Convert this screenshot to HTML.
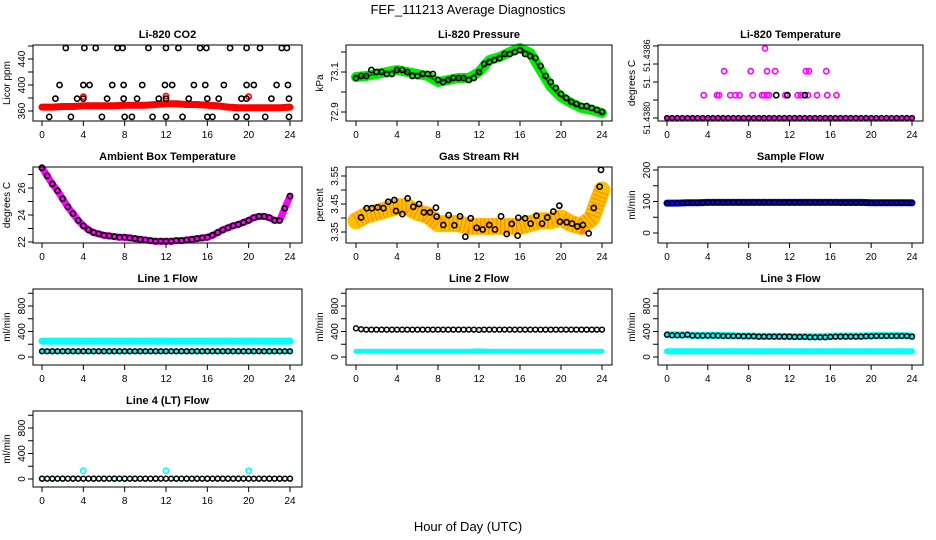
<!DOCTYPE html>
<html><head><meta charset="utf-8">
<style>
html,body{margin:0;padding:0;background:#fff;}
svg{display:block;font-family:"Liberation Sans",Arial,sans-serif;}
</style></head>
<body>
<svg id="chart" width="936" height="540" viewBox="0 0 936 540">
<text x="468" y="14" text-anchor="middle" font-size="13">FEF_111213  Average Diagnostics</text>
<text x="468" y="531" text-anchor="middle" font-size="13">Hour of Day (UTC)</text>
</svg>
<script>
const hoursTicks=[0,4,8,12,16,20,24];
const hourly=[0,1,2,3,4,5,6,7,8,9,10,11,12,13,14,15,16,17,18,19,20,21,22,23,24];
const half=[0,0.5,1,1.5,2,2.5,3,3.5,4,4.5,5,5.5,6,6.5,7,7.5,8,8.5,9,9.5,10,10.5,11,11.5,12,12.5,13,13.5,14,14.5,15,15.5,16,16.5,17,17.5,18,18.5,19,19.5,20,20.5,21,21.5,22,22.5,23,23.5,24];

// CO2
const co2Band=[366,366,367,367,368,368,368,368,369,369,369,370,371,371,370,370,369,368,366,365,365,365,365,365,366];
const co2HiT=[2.3,4.1,5.2,7.3,7.8,10.3,12.0,13.2,15.3,15.9,18.2,19.8,21.1,23.2,23.7];
const co2HiV=[457,457,457,457,457,457,457,457,457,457,457,457,457,457,457];
const co2MidT=[1.7,4.0,4.6,6.8,7.9,9.7,11.9,12.6,14.7,15.8,17.6,19.8,20.5,22.7,23.8];
const co2MidV=[400,400,400,400,400,400,400,400,400,400,400,400,400,400,400];
const co2LowT=[1.3,3.4,4.0,6.3,7.9,9.2,11.3,12.0,14.2,16.0,17.1,19.3,19.8,22.2,23.9];
const co2LowV=[379,379,379,379,379,379,379,379,379,379,379,379,379,379,379];
const co2BotT=[0.7,2.8,5.8,8.0,8.7,10.7,12.0,13.6,16.0,16.5,18.8,19.8,21.6,23.9];
const co2BotV=[351,351,351,351,351,351,351,351,351,351,351,351,351,351];
// Pressure
const presBand=[73.075,73.08,73.09,73.1,73.11,73.1,73.09,73.08,73.05,73.06,73.07,73.07,73.1,73.16,73.175,73.2,73.22,73.195,73.11,73.025,72.975,72.945,72.92,72.91,72.895];
const presBlack=[73.07,73.08,73.08,73.11,73.10,73.10,73.09,73.09,73.11,73.11,73.10,73.08,73.08,73.09,73.09,73.09,73.06,73.05,73.06,73.07,73.07,73.07,73.06,73.07,73.10,73.14,73.15,73.16,73.17,73.19,73.19,73.20,73.21,73.19,73.18,73.17,73.13,73.08,73.05,73.02,72.99,72.97,72.95,72.94,72.93,72.93,72.92,72.91,72.90];
// Li-820 temperature
const tBase=51.4380;
const tempL1T=[3.6,4.9,5.1,6.2,6.7,7.1,8.4,9.3,9.5,9.8,10.0,11.6,12.8,13.1,13.8,14.7,15.7,16.6];
const tempL1V=[51.43819,51.43819,51.43819,51.43819,51.43819,51.43819,51.43819,51.43819,51.43819,51.43819,51.43819,51.43819,51.43819,51.43819,51.43819,51.43819,51.43819,51.43819];
const tempL2T=[5.6,8.2,9.8,10.6,13.6,13.9,15.6];
const tempL2V=[51.43839,51.43839,51.43839,51.43839,51.43839,51.43839,51.43839];
const tempL3T=[9.6];
const tempL3V=[51.43858];
const tempBlkT=[10.7,11.8,13.5];
const tempBlkV=[51.43819,51.43819,51.43819];
// Ambient
const ambBlack=[27.5,26.9,26.3,25.8,25.2,24.6,24.1,23.6,23.2,22.9,22.7,22.6,22.5,22.45,22.4,22.35,22.35,22.3,22.25,22.2,22.15,22.1,22.05,22.05,22.05,22.05,22.1,22.1,22.15,22.2,22.25,22.3,22.35,22.5,22.7,22.9,23.05,23.2,23.3,23.45,23.6,23.8,23.9,23.9,23.8,23.6,23.6,24.5,25.4];
// Gas stream RH
const rhBand=[3.39,3.41,3.42,3.43,3.44,3.44,3.42,3.41,3.38,3.38,3.38,3.37,3.37,3.37,3.37,3.37,3.37,3.38,3.39,3.39,3.40,3.38,3.37,3.40,3.50];
const rhT=[0.49,1.04,1.56,2.11,2.67,3.15,3.74,3.9,4.52,5.04,5.59,6.15,6.63,7.22,7.8,7.87,8.52,9.04,9.59,10.15,10.67,11.19,11.77,12.36,13.0,13.56,14.15,14.7,15.2,15.77,15.84,16.5,17.04,17.6,18.15,18.67,19.25,19.84,19.9,20.55,21.07,21.59,22.14,22.7,23.2,23.77,23.9];
const rhV=[3.402,3.435,3.435,3.438,3.435,3.458,3.464,3.425,3.414,3.470,3.440,3.450,3.420,3.420,3.437,3.405,3.375,3.410,3.374,3.406,3.333,3.399,3.365,3.359,3.375,3.359,3.406,3.343,3.379,3.337,3.401,3.399,3.380,3.408,3.380,3.402,3.423,3.444,3.387,3.385,3.380,3.370,3.375,3.345,3.436,3.512,3.572];
// Sample flow
const sampBand=[95,95,96,96,97,97,97,97,97,97,97,97,97,97,97,97,97,97,97,97,96,96,96,96,96];
const sampBlack=[94,94,95,95,96,96,96,96,97,97,97,97,97,97,97,97,97,97,97,97,97,97,97,97,97,97,97,97,97,97,97,97,97,97,96,96,96,96,96,96,96,96,96,96,96,96,96,96,95];
// Line flows
const l1Top=[250,250,250,250,250,250,250,250,250,250,250,250,250,250,250,250,250,250,250,250,250,250,250,250,250];
const l1Low=[90,90,90,90,90,90,90,90,90,90,90,90,90,90,90,90,90,90,90,90,90,90,90,90,90];
const l1Black=[90,90,90,90,90,90,90,90,90,90,90,90,90,90,90,90,90,90,90,90,90,90,90,90,90,90,90,90,90,90,90,90,90,90,90,90,90,90,90,90,90,90,90,90,90,90,90,90,90];
const l2Low=[90,90,90,90,90,90,90,90,90,90,90,90,95,90,90,90,90,90,90,90,90,90,90,90,90];
const l2Black=[450,435,430,430,430,430,430,430,430,430,430,430,430,430,430,430,430,430,430,430,430,430,430,430,425,430,430,430,430,430,430,430,430,430,430,430,430,430,430,430,430,430,430,430,430,430,430,430,430];
const l3Top=[350,350,345,340,340,340,335,330,330,325,325,325,320,320,320,320,325,330,330,330,335,335,335,335,330];
const l3Low=[90,90,90,90,90,90,90,90,90,90,90,90,90,90,90,90,90,90,90,90,90,90,90,90,90];
const l3Black=[350,340,340,340,350,335,335,335,335,335,335,330,330,330,330,325,325,325,320,320,320,320,320,320,320,315,315,315,310,310,310,310,315,320,320,320,320,320,320,325,325,330,330,330,330,330,330,330,320];
const l4Cyan=[5,5,5,5,130,5,5,5,5,5,5,5,130,5,5,5,5,5,5,5,130,5,5,5,5];
const l4Black=[5,5,5,5,5,5,5,5,5,5,5,5,5,5,5,5,5,5,5,5,5,5,5,5,5,5,5,5,5,5,5,5,5,5,5,5,5,5,5,5,5,5,5,5,5,5,5,5,5];

const NS='http://www.w3.org/2000/svg';
const svg=document.getElementById('chart');
const boxL=[33,346,658], boxR=[302,612,923], tk0=[42,356,667], tk24=[290,602,912];
const boxT=[45,167,289,411], boxB=[121,243,365,487];
function mk(tag,attrs,parent){const e=document.createElementNS(NS,tag);for(const k in attrs)e.setAttribute(k,attrs[k]);(parent||svg).appendChild(e);return e;}

function panel(c,r,name,title,ylab,vA,pA,vB,pB,yt,ylbl,lblVals,lblFont){
  const g=mk('g',{});
  
  
  const xs=t=>tk0[c]+(tk24[c]-tk0[c])*t/24;
  const ys=v=>pA+(v-vA)*(pB-pA)/(vB-vA);
  const tt=mk('text',{x:(boxL[c]+boxR[c])/2,y:boxT[r]-7,'text-anchor':'middle','font-size':11,'font-weight':'bold'},g);
  tt.textContent=title;
  
  
  const yl=mk('text',{transform:`translate(${boxL[c]-23},${(boxT[r]+boxB[r])/2}) rotate(-90)`,'text-anchor':'middle','font-size':10},g);
  yl.textContent=ylab;
  
  
  const plot=mk('g',{},g);
  
  
  const bx=mk('rect',{x:boxL[c],y:boxT[r],width:boxR[c]-boxL[c],height:boxB[r]-boxT[r],fill:'none',stroke:'#000','stroke-width':1},g);
  
  
  hoursTicks.forEach(h=>{
    const x=xs(h);
    mk('line',{x1:x,x2:x,y1:boxB[r],y2:boxB[r]+5,stroke:'#000'},g);
    const t=mk('text',{x:x,y:boxB[r]+17,'text-anchor':'middle','font-size':10},g);
    t.textContent=h;
    
    
  });
  yt.forEach(v=>{
    const y=ys(v);
    mk('line',{x1:boxL[c]-5,x2:boxL[c],y1:y,y2:y,stroke:'#000'},g);
  });
  const lv=lblVals||yt;
  lv.forEach((v,i)=>{
    if(ylbl[i]){
      const y=ys(v);
      const t=mk('text',{transform:`translate(${boxL[c]-8},${y}) rotate(-90)`,'text-anchor':'middle','font-size':lblFont||10},g);
      t.textContent=ylbl[i];
      
      
    }
  });
  return {xs,ys,plot};
}
function band(p,ts,vs,color,w,name){
  const pts=ts.map((t,i)=>p.xs(t).toFixed(1)+','+p.ys(vs[i]).toFixed(1)).join(' ');
  const e=mk('polyline',{points:pts,fill:'none',stroke:color,'stroke-width':w,'stroke-linejoin':'round','stroke-linecap':'round'},p.plot);
  
  
  return e;
}
function pts(p,ts,vs,color,name,rad,sw){
  ts.forEach((t,i)=>{
    const e=mk('circle',{cx:p.xs(t),cy:p.ys(vs[i]),r:rad||2.6,fill:'none',stroke:color,'stroke-width':sw||1.6},p.plot);
    
    
  });
}

// Row 1
let p=panel(0,0,'co2','Li-820 CO2','Licor ppm',360,111,440,59,[360,380,400,420,440,460],['360','','400','','440','']);
band(p,hourly,co2Band,'#ff0000',7,'co2-band');
pts(p,[4,12,20],[382,383,382],'#ff0000','co2-red-point');
pts(p,co2HiT,co2HiV,'#000','co2-point');
pts(p,co2MidT,co2MidV,'#000','co2-point');
pts(p,co2LowT,co2LowV,'#000','co2-point');
pts(p,co2BotT,co2BotV,'#000','co2-point');

p=panel(1,0,'pressure','Li-820 Pressure','kPa',73.1,72,72.9,112,[72.9,73.0,73.1,73.2],['72.9','','73.1','']);
band(p,hourly,presBand,'#00ee00',10,'pressure-band');
band(p,hourly,presBand,'#007700',2,'pressure-band-core').setAttribute('stroke-dasharray','1 2');
pts(p,half,presBlack,'#000','pressure-point');

p=panel(2,0,'li820-temp','Li-820 Temperature','degrees C',51.4380,118,51.4386,46,[51.4380,51.43815,51.4383,51.43845,51.4386],['51.4380','51.','51.4386'],[51.4380,51.4383,51.43852],9);
band(p,[0,24],[tBase,tBase],'#ff00ff',4,'temp-base-band');
pts(p,half,half.map(()=>tBase),'#000','temp-point',2.4,1.4);
pts(p,tempL1T,tempL1V,'#ff00ff','temp-magenta-point');
pts(p,tempL2T,tempL2V,'#ff00ff','temp-magenta-point');
pts(p,tempL3T,tempL3V,'#ff00ff','temp-magenta-point');
pts(p,tempBlkT,tempBlkV,'#000','temp-point');

// Row 2
p=panel(0,1,'ambient-temp','Ambient Box Temperature','degrees C',22,242,26,188,[22,23,24,25,26,27],['22','','24','','26','']);
band(p,half,ambBlack,'#ff00ff',7,'ambient-band');
pts(p,half,ambBlack,'#000','ambient-point');

p=panel(1,1,'gas-rh','Gas Stream RH','percent',3.55,176,3.35,232,[3.35,3.40,3.45,3.50,3.55],['3.35','','3.45','','3.55']);
band(p,hourly,rhBand,'#ffc000',17,'rh-band');
const rhRed=band(p,hourly,rhBand,'#ff3000',15,'rh-band-red');
rhRed.setAttribute('stroke-dasharray','1 3');
rhRed.setAttribute('stroke-linecap','butt');
rhRed.setAttribute('stroke-opacity','0.45');
pts(p,rhT,rhV,'#000','rh-point');

p=panel(2,1,'sample-flow','Sample Flow','ml/min',0,233,200,170,[0,50,100,150,200],['0','','100','','200']);
band(p,hourly,sampBand,'#0000ff',7,'sample-band');
pts(p,half,sampBlack,'#000','sample-point',2.4,1.5);

// Row 3 & 4
const fT=[0,200,400,600,800,1000], fL=['0','','400','','800',''];
p=panel(0,2,'line1-flow','Line 1 Flow','ml/min',0,357,800,306,fT,fL);
band(p,hourly,l1Top,'#00ffff',7,'line1-cyan-band');
band(p,hourly,l1Low,'#00ffff',5,'line1-cyan-low');
pts(p,half,l1Black,'#000','line1-point',2.4,1.5);

p=panel(1,2,'line2-flow','Line 2 Flow','ml/min',0,357,800,306,fT,fL);
band(p,hourly,l2Low,'#00ffff',5,'line2-cyan-band');
pts(p,half,l2Black,'#000','line2-point',2.4,1.5);

p=panel(2,2,'line3-flow','Line 3 Flow','ml/min',0,357,800,306,fT,fL);
band(p,hourly,l3Top,'#00ffff',7,'line3-cyan-band');
band(p,hourly,l3Low,'#00ffff',6,'line3-cyan-low');
pts(p,half,l3Black,'#000','line3-point',2.4,1.5);

p=panel(0,3,'line4-flow','Line 4 (LT) Flow','ml/min',0,479,800,428,fT,fL);
pts(p,hourly,l4Cyan,'#00ffff','line4-cyan-point',2.6,1.6);
pts(p,half,l4Black,'#000','line4-point',2.4,1.5);
</script>
</body></html>
